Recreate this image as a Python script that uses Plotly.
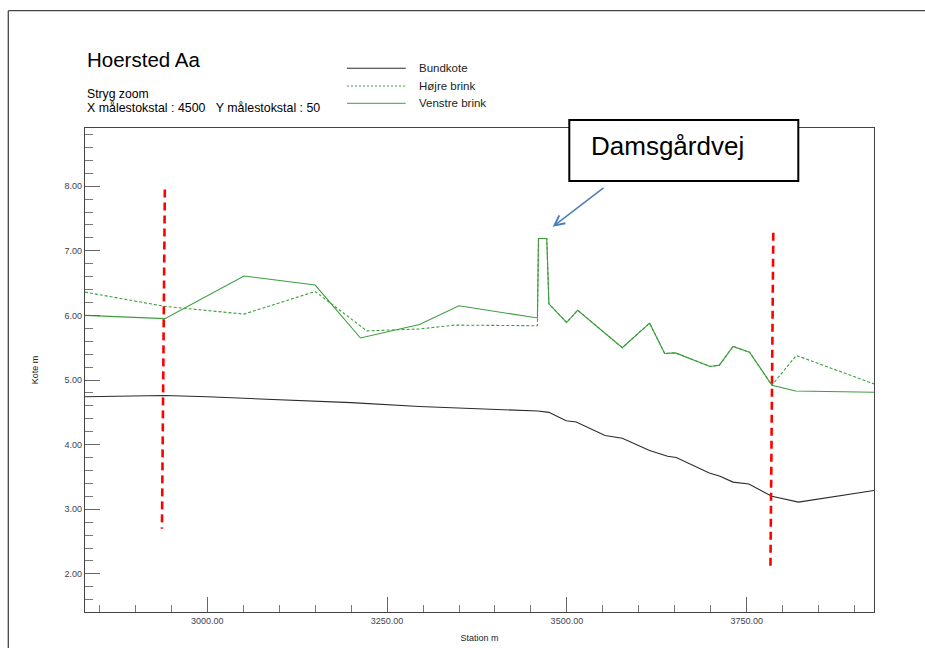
import plotly.graph_objects as go

# Longitudinal profile data (station in m, level in m)
bund_station = [2830, 2940, 3000, 3100, 3200, 3295, 3400, 3460, 3475, 3499, 3513,
                3553, 3577, 3615, 3640, 3652, 3698, 3713, 3731, 3753, 3785, 3822, 3927]
bund_kote = [4.74, 4.76, 4.74, 4.70, 4.65, 4.59, 4.55, 4.52, 4.50, 4.37, 4.35,
             4.14, 4.10, 3.91, 3.82, 3.80, 3.56, 3.51, 3.42, 3.39, 3.20, 3.11, 3.29]

venstre_station = [2830, 2941, 3051, 3150, 3213, 3295, 3350, 3459, 3460.5, 3472, 3475, 3499.5,
                   3515, 3577, 3615, 3636, 3651, 3699, 3712, 3731, 3754, 3785, 3818, 3927]
venstre_kote = [6.00, 5.95, 6.61, 6.47, 5.65, 5.86, 6.15, 5.96, 7.19, 7.19, 6.18, 5.89,
                6.08, 5.50, 5.88, 5.41, 5.42, 5.21, 5.23, 5.52, 5.43, 4.92, 4.83, 4.81]

hoejre_station = [2830, 2941, 3051, 3150, 3222, 3295, 3344, 3459, 3460.5, 3472, 3475, 3499.5,
                  3515, 3577, 3615, 3636, 3651, 3699, 3712, 3731, 3754, 3785, 3819, 3927]
hoejre_kote = [6.36, 6.14, 6.02, 6.37, 5.76, 5.79, 5.85, 5.84, 7.19, 7.19, 6.18, 5.89,
               6.08, 5.50, 5.88, 5.41, 5.42, 5.21, 5.23, 5.52, 5.43, 4.92, 5.38, 4.94]

# Section boundaries (red dashed markers)
snit1_station = [2941, 2937]
snit1_kote = [7.95, 2.70]
snit2_station = [3787, 3783]
snit2_kote = [7.28, 2.05]

legend_names = ["Bundkote", "Højre brink", "Venstre brink"]

FONT = "Liberation Sans, Arial, sans-serif"
W, H = 925, 648
L, R, T, B = 85, 874, 128, 612


def pxx(x):
    return (x - L) / (R - L)


def pxy(y):
    return (B - y) / (B - T)


BLACK = "#2b2b2b"
GREEN = "#3d9e3d"

fig = go.Figure()
fig.add_trace(go.Scatter(x=hoejre_station, y=hoejre_kote, mode="lines",
                         line=dict(color=GREEN, width=1.1, dash="3px,2px"),
                         showlegend=False))
fig.add_trace(go.Scatter(x=venstre_station, y=venstre_kote, mode="lines",
                         line=dict(color=GREEN, width=1.1), showlegend=False))
fig.add_trace(go.Scatter(x=bund_station, y=bund_kote, mode="lines",
                         line=dict(color=BLACK, width=1.1), showlegend=False))
for sx, sy in [(snit1_station, snit1_kote), (snit2_station, snit2_kote)]:
    fig.add_trace(go.Scatter(x=sx, y=sy, mode="lines",
                             line=dict(color="#ff0000", width=2.6, dash="8px,5px"),
                             showlegend=False))

shapes = []
# page border (top and left)
shapes.append(dict(type="line", xref="paper", yref="paper",
                   x0=pxx(8.3), x1=pxx(930), y0=pxy(10.7), y1=pxy(10.7),
                   line=dict(color="#444", width=1.3)))
shapes.append(dict(type="line", xref="paper", yref="paper",
                   x0=pxx(8.3), x1=pxx(8.3), y0=pxy(10.7), y1=pxy(655),
                   line=dict(color="#444", width=1.3)))

# legend samples
leg_y = [68.3, 86, 103.3]
leg_styles = [dict(color=BLACK, width=1.1),
              dict(color=GREEN, width=1.1, dash="2px,2px"),
              dict(color="#5cb85c", width=1.3)]
annotations = []
for name, yy, st in zip(legend_names, leg_y, leg_styles):
    shapes.append(dict(type="line", xref="paper", yref="paper",
                       x0=pxx(347), x1=pxx(405.7), y0=pxy(yy), y1=pxy(yy), line=st))
    annotations.append(dict(text=name, xref="paper", yref="paper",
                            x=pxx(417), y=pxy(yy), xanchor="left", yanchor="middle",
                            showarrow=False, font=dict(family=FONT, size=11.5, color="#222")))

# callout box
shapes.append(dict(type="rect", xref="paper", yref="paper", layer="above",
                   x0=pxx(569.3), x1=pxx(798.3), y0=pxy(120), y1=pxy(181),
                   line=dict(color="black", width=2), fillcolor="white"))
annotations.append(dict(text="Damsgårdvej", xref="paper", yref="paper",
                        x=pxx(589), y=pxy(146), xanchor="left", yanchor="middle",
                        showarrow=False, font=dict(family=FONT, size=26, color="black")))
# callout arrow
annotations.append(dict(text="", xref="paper", yref="paper",
                        x=pxx(552.7), y=pxy(226.7), ax=605 - 552.7, ay=186.7 - 226.7,
                        showarrow=True, arrowhead=5, arrowsize=1.3, arrowwidth=1.5,
                        arrowcolor="#4a7ebb", standoff=0))

# title block
annotations.append(dict(text="Hoersted Aa", xref="paper", yref="paper",
                        x=pxx(85), y=pxy(59), xanchor="left", yanchor="middle",
                        showarrow=False, font=dict(family=FONT, size=20.5, color="black")))
annotations.append(dict(text="Stryg zoom", xref="paper", yref="paper",
                        x=pxx(85), y=pxy(94.3), xanchor="left", yanchor="middle",
                        showarrow=False, font=dict(family=FONT, size=12.2, color="black")))
annotations.append(dict(text="X målestokstal : 4500\u00a0\u00a0\u00a0Y målestokstal : 50",
                        xref="paper", yref="paper",
                        x=pxx(85), y=pxy(108.3), xanchor="left", yanchor="middle",
                        showarrow=False, font=dict(family=FONT, size=12.4, color="black")))

TICKFONT = dict(family=FONT, size=9, color="#3d4150")

fig.update_layout(
    width=W, height=H,
    margin=dict(l=L, r=W - R, t=T, b=H - B, pad=0, autoexpand=False),
    paper_bgcolor="white", plot_bgcolor="white",
    shapes=shapes, annotations=annotations,
    xaxis=dict(range=[2830, 3927], showgrid=False, zeroline=False, automargin=False,
               showline=True, mirror=True, linecolor="#444", linewidth=1.3,
               ticks="inside", ticklen=15, tickwidth=1.2, tickcolor="#666",
               tick0=3000, dtick=250, tickformat=".2f", tickfont=TICKFONT,
               minor=dict(ticks="inside", ticklen=7, dtick=50, tick0=3000,
                          tickcolor="#777", tickwidth=1.2, showgrid=False),
               title=dict(text="Station m", font=dict(family=FONT, size=9, color="#222"),
                          standoff=9)),
    yaxis=dict(range=[1.41, 8.90], showgrid=False, zeroline=False, automargin=False,
               showline=True, mirror=True, linecolor="#444", linewidth=1.3,
               ticks="inside", ticklen=15, tickwidth=1.2, tickcolor="#666",
               tick0=0, dtick=1, tickformat=".2f", tickfont=TICKFONT,
               minor=dict(ticks="inside", ticklen=8, dtick=0.2, tick0=0,
                          tickcolor="#777", tickwidth=1.2, showgrid=False),
               title=dict(text="Kote m", font=dict(family=FONT, size=9, color="#222"),
                          standoff=24)),
)

fig.write_html("out.html")
